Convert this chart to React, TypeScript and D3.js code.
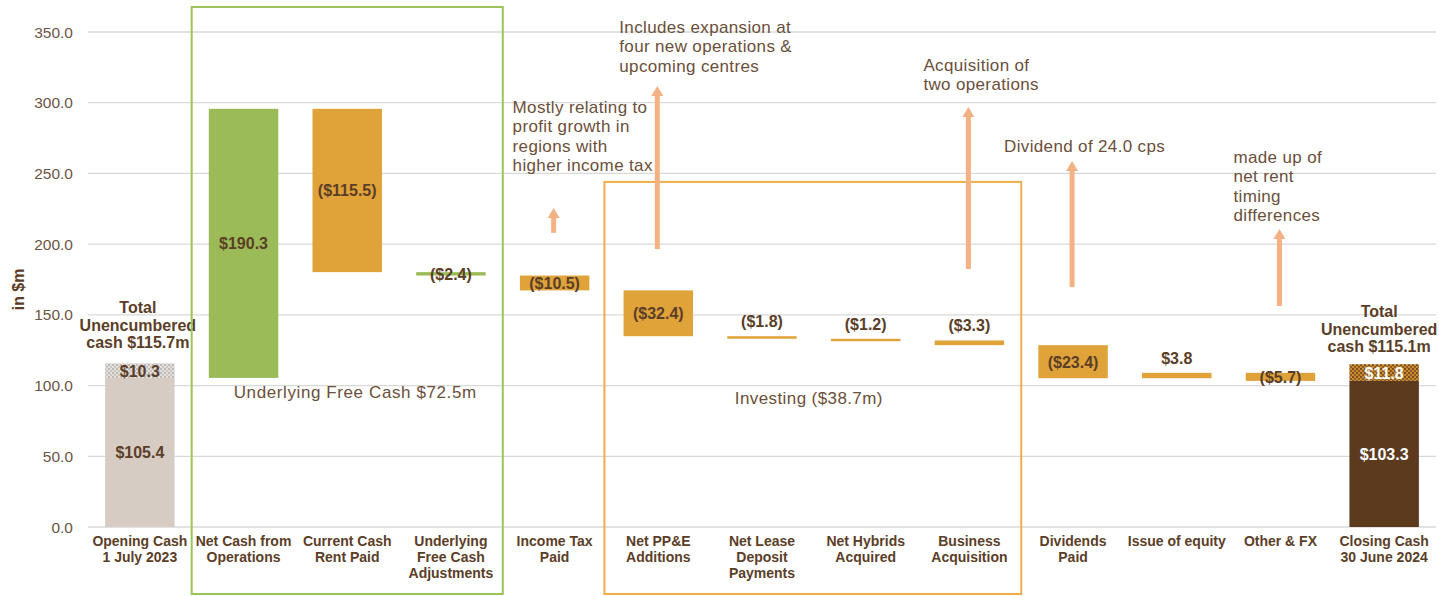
import React from "react";
import * as d3 from "d3";

const categories = [
  "Opening Cash|1 July 2023",
  "Net Cash from|Operations",
  "Current Cash|Rent Paid",
  "Underlying|Free Cash|Adjustments",
  "Income Tax|Paid",
  "Net PP&E|Additions",
  "Net Lease|Deposit|Payments",
  "Net Hybrids|Acquired",
  "Business|Acquisition",
  "Dividends|Paid",
  "Issue of equity",
  "Other & FX",
  "Closing Cash|30 June 2024",
];
const deltas = [0, 190.3, -115.5, -2.4, -10.5, -32.4, -1.8, -1.2, -3.3, -23.4, 3.8, -5.7, 0];
const deltaColors = ["", "green", "orange", "green", "orange", "orange", "orange", "orange", "orange", "orange", "orange", "orange", ""];
const labelPos = ["", "center", "center", "center", "center", "center", "above", "above", "above", "center", "above", "center", ""];
const openingSplit = [105.4, 10.3];
const closingSplit = [103.3, 11.8];
const openingTotalText = ["Total", "Unencumbered", "cash $115.7m"];
const closingTotalText = ["Total", "Unencumbered", "cash $115.1m"];
const yTicks = [0, 50, 100, 150, 200, 250, 300, 350];

const arrows = [
  { cat: 4, from: 208, to: 225.6 },
  { cat: 5, from: 196.6, to: 311.9 },
  { cat: 8, from: 182.5, to: 297 },
  { cat: 9, from: 169.7, to: 258.8 },
  { cat: 11, from: 156.3, to: 210.7 },
];
const notes = [
  { cat: 4, dx: -42, y: 113, lines: ["Mostly relating to", "profit growth in", "regions with", "higher income tax"] },
  { cat: 5, dx: -39, y: 33, lines: ["Includes expansion at", "four new operations &", "upcoming centres"] },
  { cat: 8, dx: -46, y: 71, lines: ["Acquisition of", "two operations"] },
  { cat: 9, dx: -69, y: 152, lines: ["Dividend of 24.0 cps"] },
  { cat: 11, dx: -47, y: 163, lines: ["made up of", "net rent", "timing", "differences"] },
];

const W = 1439, H = 596;
const GREEN = "#9BBB59";
const ORANGE = "#E0A33A";
const BROWN = "#5C3A1E";
const TXT = "#5B3E27";
const NOTE = "#6B4F3A";
const FONT = "'Liberation Sans', Arial, sans-serif";

export default function App() {
  const x = d3.scaleBand<number>().domain(d3.range(categories.length)).range([88, 1436]).paddingInner(0.33).paddingOuter(0.165);
  const y = d3.scaleLinear().domain([0, 350]).range([527, 32]);
  const bw = x.bandwidth();
  const step = x.step();
  const gap = step - bw;
  const cx = (i: number) => (x(i) as number) + bw / 2;
  const fmt = (v: number) => (v < 0 ? `($${Math.abs(v).toFixed(1)})` : `$${v.toFixed(1)}`);

  let running = openingSplit[0];
  const bars: any[] = [];
  deltas.forEach((d, i) => {
    if (i === 0 || i === categories.length - 1) return;
    const start = running;
    const end = running + d;
    running = end;
    bars.push({ i, lo: Math.min(start, end), hi: Math.max(start, end), d });
  });

  const greenBox = { x0: (x(1) as number) - gap / 2, x1: (x(3) as number) + bw + gap / 2 };
  const orangeBox = { x0: (x(5) as number) - gap / 2 - 2, x1: (x(8) as number) + bw + gap / 2 };

  return (
    <div style={{ position: "absolute", left: 0, top: 0 }}>
      <svg width={W} height={H} style={{ display: "block", fontFamily: FONT }}>
        <defs>
          <pattern id="pOpen" width="4" height="4" patternUnits="userSpaceOnUse">
            <rect width="4" height="4" fill="#E2DFDC" />
            <rect width="2" height="2" fill="#BDB8B3" />
            <rect x="2" y="2" width="2" height="2" fill="#C9C5C1" />
          </pattern>
          <pattern id="pClose" width="4" height="4" patternUnits="userSpaceOnUse">
            <rect width="4" height="4" fill="#C98B2E" />
            <rect width="2" height="2" fill="#7A4E22" />
            <rect x="2" y="2" width="2" height="2" fill="#8E5D27" />
          </pattern>
        </defs>
        <rect width={W} height={H} fill="#fff" />
        {yTicks.map((t) => (
          <line key={t} x1={88} x2={1436} y1={y(t)} y2={y(t)} stroke="#D9D9D9" strokeWidth={1.3} />
        ))}
        {yTicks.map((t) => (
          <text key={"t" + t} x={73} y={y(t) + 5.5} textAnchor="end" fontSize={15.5} fill="#6B5545">
            {t.toFixed(1)}
          </text>
        ))}
        <text transform={`translate(24,${y(168)}) rotate(-90)`} textAnchor="middle" fontSize={16} fontWeight="bold" fill={TXT}>
          in $m
        </text>

        <rect x={x(0)} y={y(openingSplit[0])} width={bw} height={y(0) - y(openingSplit[0])} fill="#D6CCC4" />
        <rect x={x(0)} y={y(openingSplit[0] + openingSplit[1])} width={bw} height={y(openingSplit[0]) - y(openingSplit[0] + openingSplit[1])} fill="url(#pOpen)" />
        <text x={cx(0)} y={y(openingSplit[0] / 2) + 6} textAnchor="middle" fontSize={16} fontWeight="bold" fill={TXT}>{fmt(openingSplit[0])}</text>
        <text x={cx(0)} y={y(openingSplit[0] + openingSplit[1] / 2) + 6} textAnchor="middle" fontSize={16} fontWeight="bold" fill={TXT}>{fmt(openingSplit[1])}</text>

        {(() => {
          const k = categories.length - 1;
          return (
            <g>
              <rect x={x(k)} y={y(closingSplit[0])} width={bw} height={y(0) - y(closingSplit[0])} fill={BROWN} />
              <rect x={x(k)} y={y(closingSplit[0] + closingSplit[1])} width={bw} height={y(closingSplit[0]) - y(closingSplit[0] + closingSplit[1])} fill="url(#pClose)" />
              <text x={cx(k)} y={y(closingSplit[0] / 2) + 6} textAnchor="middle" fontSize={16} fontWeight="bold" fill="#fff">{fmt(closingSplit[0])}</text>
              <text x={cx(k)} y={y(closingSplit[0] + closingSplit[1] / 2) + 6} textAnchor="middle" fontSize={16} fontWeight="bold" fill="#fff">{fmt(closingSplit[1])}</text>
            </g>
          );
        })()}

        {bars.map((b) => {
          const top = y(b.hi);
          const h = Math.max(2.5, y(b.lo) - y(b.hi));
          const pos = labelPos[b.i];
          const ly = pos === "center" ? top + h / 2 + 6 : top - 9;
          return (
            <g key={b.i}>
              <rect x={x(b.i)} y={top} width={bw} height={h} fill={deltaColors[b.i] === "green" ? GREEN : ORANGE} />
              <text x={cx(b.i)} y={ly} textAnchor="middle" fontSize={16} fontWeight="bold" fill={TXT}>{fmt(b.d)}</text>
            </g>
          );
        })}

        {openingTotalText.map((t, j) => (
          <text key={"o" + j} x={cx(0) - 2} y={313 + j * 17.5} textAnchor="middle" fontSize={16} fontWeight="bold" fill={TXT}>{t}</text>
        ))}
        {closingTotalText.map((t, j) => (
          <text key={"c" + j} x={cx(categories.length - 1) - 5} y={317 + j * 17.5} textAnchor="middle" fontSize={16} fontWeight="bold" fill={TXT}>{t}</text>
        ))}

        <rect x={greenBox.x0} y={7} width={greenBox.x1 - greenBox.x0} height={587} fill="none" stroke="#9BC45A" strokeWidth={2} />
        <rect x={orangeBox.x0} y={y(244)} width={orangeBox.x1 - orangeBox.x0} height={594 - y(244)} fill="none" stroke="#EFAE4A" strokeWidth={2} />
        <text x={(greenBox.x0 + greenBox.x1) / 2 + 8} y={398} textAnchor="middle" fontSize={17} letterSpacing={0.6} fill={NOTE}>Underlying Free Cash $72.5m</text>
        <text x={(orangeBox.x0 + orangeBox.x1) / 2 - 4} y={404} textAnchor="middle" fontSize={17} letterSpacing={0.4} fill={NOTE}>Investing ($38.7m)</text>

        {arrows.map((a, j) => {
          const ax = cx(a.cat) - 1;
          const y0 = y(a.from);
          const y1 = y(a.to);
          return (
            <g key={"a" + j}>
              <line x1={ax} x2={ax} y1={y0} y2={y1 + 9} stroke="#F4B183" strokeWidth={5} />
              <path d={`M${ax - 6},${y1 + 10} L${ax},${y1} L${ax + 6},${y1 + 10} Z`} fill="#F4B183" />
            </g>
          );
        })}

        {notes.map((n, j) => (
          <text key={"n" + j} fontSize={17} letterSpacing={0.35} fill={NOTE}>
            {n.lines.map((l, k) => (
              <tspan key={k} x={cx(n.cat) + n.dx} y={n.y + k * 19.3}>{l}</tspan>
            ))}
          </text>
        ))}

        {categories.map((c, i) => (
          <text key={"x" + i} textAnchor="middle" fontSize={14} fontWeight="bold" fill={TXT}>
            {c.split("|").map((l, k) => (
              <tspan key={k} x={cx(i)} y={546 + k * 16}>{l}</tspan>
            ))}
          </text>
        ))}
      </svg>
    </div>
  );
}
